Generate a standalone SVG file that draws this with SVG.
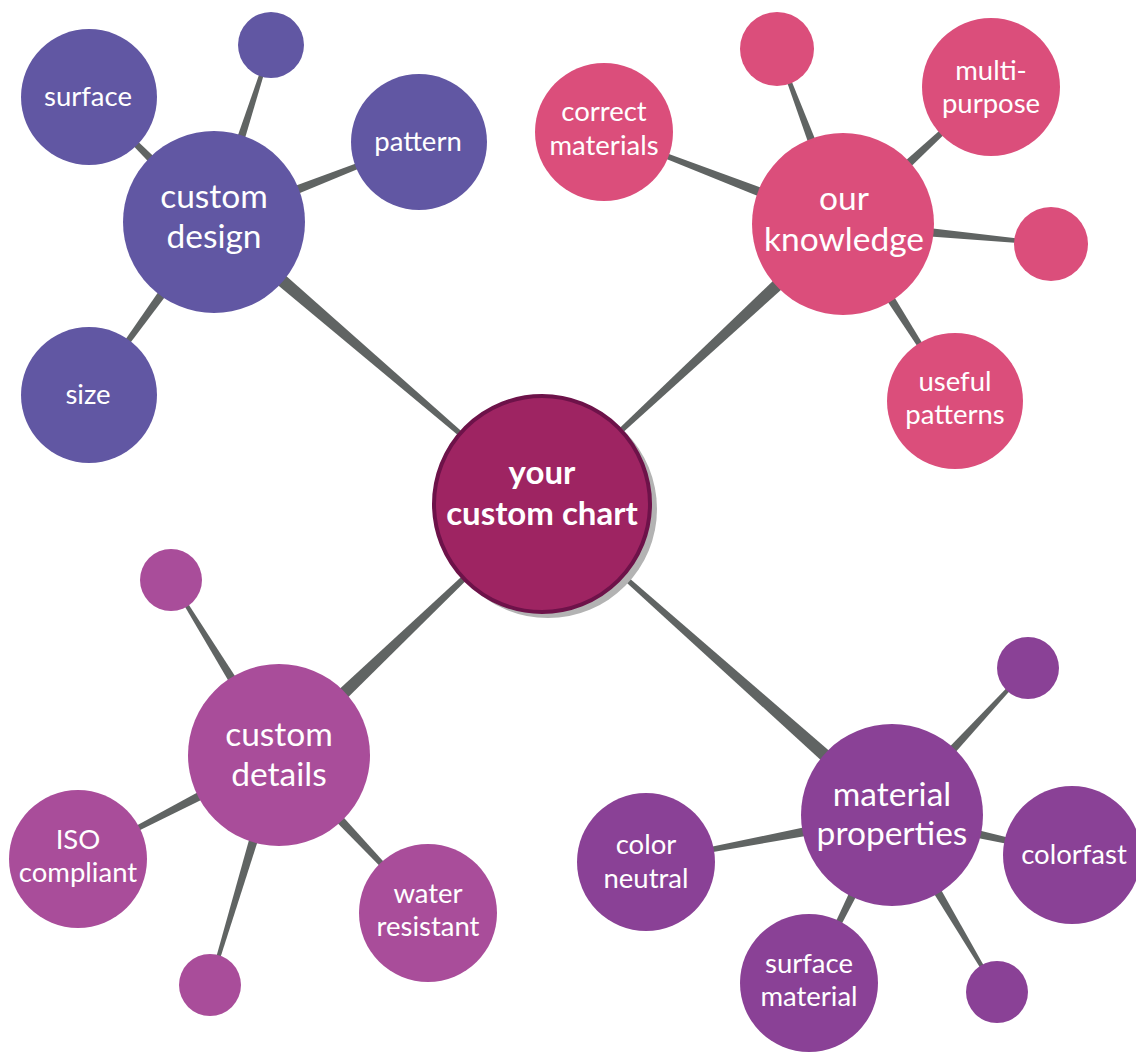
<svg xmlns="http://www.w3.org/2000/svg" width="1136" height="1052" viewBox="0 0 1136 1052">
<style>
.c{fill:#606463}
.t{fill:#ffffff;font-family:Lato,"Open Sans","Liberation Sans",sans-serif;text-anchor:middle}
.br{font-size:33.5px}
.lf{font-size:27.5px}
.ctr{font-size:33px;font-weight:bold}
.design{fill:#6157a3}
.know{fill:#db4e7b}
.det{fill:#a94d9a}
.prop{fill:#8a4196}
</style>
<rect width="1136" height="1052" fill="#ffffff"/>
<g id="connectors">
<polygon class="c" points="542.65,503.24 218.89,216.31 209.11,227.69 541.35,504.76"/>
<polygon class="c" points="542.68,504.73 848.11,229.49 837.89,218.51 541.32,503.27"/>
<polygon class="c" points="541.31,503.28 273.82,749.58 284.18,760.42 542.69,504.72"/>
<polygon class="c" points="541.34,504.75 887.02,820.61 896.98,809.39 542.66,503.25"/>
<polygon class="c" points="218.24,217.76 90.06,95.94 87.94,98.06 209.76,226.24"/>
<polygon class="c" points="219.71,223.84 272.43,45.46 269.57,44.54 208.29,220.16"/>
<polygon class="c" points="216.18,227.59 419.55,143.40 418.45,140.60 211.82,216.41"/>
<polygon class="c" points="209.14,218.49 87.78,394.12 90.22,395.88 218.86,225.51"/>
<polygon class="c" points="845.16,218.40 604.54,130.60 603.46,133.40 840.84,229.60"/>
<polygon class="c" points="848.61,221.88 778.40,48.47 775.60,49.53 837.39,226.12"/>
<polygon class="c" points="847.08,228.40 992.02,88.10 989.98,85.90 838.92,219.60"/>
<polygon class="c" points="842.43,229.97 1050.86,245.49 1051.14,242.51 843.57,218.03"/>
<polygon class="c" points="837.94,227.22 953.73,400.81 956.27,399.19 848.06,220.78"/>
<polygon class="c" points="284.11,751.85 172.28,579.21 169.72,580.79 273.89,758.15"/>
<polygon class="c" points="276.24,749.67 77.31,857.67 78.69,860.33 281.76,760.33"/>
<polygon class="c" points="274.64,759.12 426.91,914.03 429.09,911.97 283.36,750.88"/>
<polygon class="c" points="273.25,753.28 208.56,984.57 211.44,985.43 284.75,756.72"/>
<polygon class="c" points="896.40,819.07 1029.10,669.02 1026.90,666.98 887.60,810.93"/>
<polygon class="c" points="890.87,809.11 645.72,860.53 646.28,863.47 893.13,820.89"/>
<polygon class="c" points="890.70,820.86 1071.67,856.46 1072.33,853.54 893.30,809.14"/>
<polygon class="c" points="886.62,812.34 807.66,982.34 810.34,983.66 897.38,817.66"/>
<polygon class="c" points="886.84,818.06 995.71,992.77 998.29,991.23 897.16,811.94"/>
</g>
<g id="center">
<circle cx="548" cy="509" r="109" fill="#b3b3b3"/>
<circle cx="542" cy="504" r="108" fill="#9e2462" stroke="#6d1249" stroke-width="4"/>
<text class="t ctr" x="542" y="484">your</text>
<text class="t ctr" x="542" y="525">custom chart</text>
</g>
<g id="custom-design">
<circle class="design" cx="214" cy="222" r="91"/>
<text class="t br" x="214" y="208">custom</text>
<text class="t br" x="214" y="248">design</text>
</g>
<g id="surface">
<circle class="design" cx="89" cy="97" r="68"/>
<text class="t lf" x="88" y="106">surface</text>
</g>
<g id="design-small">
<circle class="design" cx="271" cy="45" r="33"/>
</g>
<g id="pattern">
<circle class="design" cx="419" cy="142" r="68"/>
<text class="t lf" x="418" y="151">pattern</text>
</g>
<g id="size">
<circle class="design" cx="89" cy="395" r="68"/>
<text class="t lf" x="88" y="404">size</text>
</g>
<g id="our-knowledge">
<circle class="know" cx="843" cy="224" r="91"/>
<text class="t br" x="844" y="210">our</text>
<text class="t br" x="844" y="251">knowledge</text>
</g>
<g id="correct-materials">
<circle class="know" cx="604" cy="132" r="69"/>
<text class="t lf" x="604" y="121">correct</text>
<text class="t lf" x="604" y="155">materials</text>
</g>
<g id="knowledge-small-top">
<circle class="know" cx="777" cy="49" r="37"/>
</g>
<g id="multi-purpose">
<circle class="know" cx="991" cy="87" r="69"/>
<text class="t lf" x="991" y="80">multi-</text>
<text class="t lf" x="991" y="113">purpose</text>
</g>
<g id="knowledge-small-right">
<circle class="know" cx="1051" cy="244" r="37"/>
</g>
<g id="useful-patterns">
<circle class="know" cx="955" cy="401" r="68"/>
<text class="t lf" x="955" y="391">useful</text>
<text class="t lf" x="955" y="424">patterns</text>
</g>
<g id="custom-details">
<circle class="det" cx="279" cy="755" r="91"/>
<text class="t br" x="279" y="746">custom</text>
<text class="t br" x="279" y="786">details</text>
</g>
<g id="details-small-top">
<circle class="det" cx="171" cy="580" r="31"/>
</g>
<g id="iso-compliant">
<circle class="det" cx="78" cy="859" r="69"/>
<text class="t lf" x="78" y="849">ISO</text>
<text class="t lf" x="78" y="882">compliant</text>
</g>
<g id="water-resistant">
<circle class="det" cx="428" cy="913" r="69"/>
<text class="t lf" x="428" y="903">water</text>
<text class="t lf" x="428" y="936">resistant</text>
</g>
<g id="details-small-bottom">
<circle class="det" cx="210" cy="985" r="31"/>
</g>
<g id="material-properties">
<circle class="prop" cx="892" cy="815" r="91"/>
<text class="t br" x="892" y="806">material</text>
<text class="t br" x="892" y="845">properties</text>
</g>
<g id="properties-small-top">
<circle class="prop" cx="1028" cy="668" r="31"/>
</g>
<g id="color-neutral">
<circle class="prop" cx="646" cy="862" r="69"/>
<text class="t lf" x="646" y="854">color</text>
<text class="t lf" x="646" y="888">neutral</text>
</g>
<g id="colorfast">
<circle class="prop" cx="1072" cy="855" r="69"/>
<text class="t lf" x="1074" y="864">colorfast</text>
</g>
<g id="surface-material">
<circle class="prop" cx="809" cy="983" r="69"/>
<text class="t lf" x="809" y="973">surface</text>
<text class="t lf" x="809" y="1006">material</text>
</g>
<g id="properties-small-bottom">
<circle class="prop" cx="997" cy="992" r="31"/>
</g>
</svg>
